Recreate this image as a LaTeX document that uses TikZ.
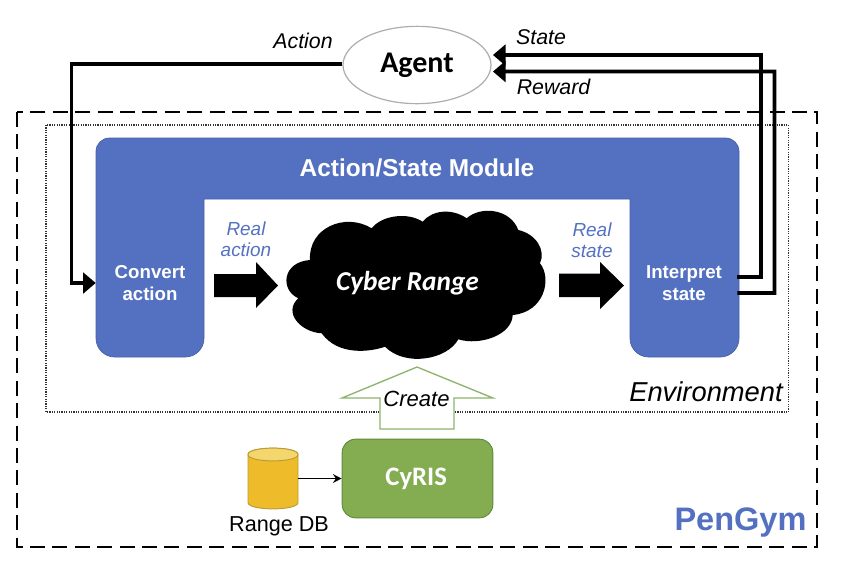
\documentclass[tikz,border=0pt]{standalone}
\usepackage{fontspec}
\setmainfont{Liberation Sans}
\newfontfamily\carlito{Carlito}
\usetikzlibrary{arrows.meta,shapes.geometric}
\definecolor{modblue}{HTML}{5470C1}
\definecolor{cygreen}{HTML}{84AD52}
\definecolor{cyedge}{HTML}{5F8A3C}
\definecolor{arrowgreen}{HTML}{8DB46A}
\definecolor{dbfill}{HTML}{EEBC2A}
\definecolor{dbtop}{HTML}{F4D66E}
\definecolor{dbedge}{HTML}{BD9A35}
\newcommand{\pxs}[2]{\fontsize{#1}{#2}\selectfont}
\tikzset{
  lab/.style={inner sep=0pt,align=center},
  flow/.style={line width=2.9pt,line join=miter,-{Triangle[width=15.5pt,length=9.5pt]}},
  fatarrow/.style={fill=black,draw=none},
  modtext/.style={lab,text=white,font=\bfseries\pxs{14}{16.5}},
  reallab/.style={lab,text=modblue,font=\itshape\pxs{14.2}{15.8}},
  blacklab/.style={lab,font=\itshape\pxs{16}{18}},
}
\begin{document}
\begin{tikzpicture}[x=0.75pt,y=-0.75pt]
\useasboundingbox (0,0) rectangle (842,576);
% frames
\draw[line width=1.6pt,dash pattern=on 11.2pt off 5.6pt] (17,112) rectangle (817,547);
\draw[line width=0.8pt,dash pattern=on 0.9pt off 0.9pt,black!80] (46,125) rectangle (788.5,412);
% module
\fill[modblue,draw=modblue!85!black,line width=0.5pt]
  (96,250) [rounded corners=10pt] -- (96,138) -- (739,138) -- (739,250)
  [rounded corners=14pt] -- (739,357) -- (630,357) [sharp corners] -- (630,199) -- (204,199)
  [rounded corners=14pt] -- (204,357) -- (96,357) -- cycle;
\node[lab,text=white,font=\bfseries\pxs{18.3}{20}] (modtitle) at (417,168) {Action/State Module};
\node[modtext,minimum width=81pt] (convert) at (150,283) {Convert\\action};
\node[modtext,minimum width=81.75pt] (interp) at (684,283) {Interpret\\state};
% agent
\node[draw=black!32,line width=0.9pt,ellipse,minimum width=111pt,minimum height=58pt,inner sep=0pt,fill=white,
  font=\carlito\bfseries\pxs{22.5}{24}] (agent) at (417,65) {Agent};
% flows
\coordinate (actcorner) at (71.5,170);
\coordinate (statecorner) at (761,55);
\coordinate (rewardcorner) at (774.5,71.5);
\draw[flow] ([yshift=1pt]agent.west) -| (actcorner) |- (convert.west);
\draw[flow] ([yshift=4.5pt,xshift=-1pt]interp.east) -| (statecorner) -- ([yshift=7.5pt,xshift=1pt]agent.east);
\draw[flow] ([yshift=-7.5pt,xshift=-1pt]interp.east) -| (rewardcorner) -- ([yshift=-4.9pt,xshift=1pt]agent.east);
\node[blacklab] (actionlab) at (303,41) {Action};
\node[blacklab] (statelab) at (541,37) {State};
\node[blacklab] (rewardlab) at (553.5,87) {Reward};
% cloud
\fill[black] (310,260)
  .. controls (308,228) and (345,212) .. (371.7,228.3)
  .. controls (382,215) and (408,212) .. (422.7,221.7)
  .. controls (432,210) and (452,208) .. (466.7,218.3)
  .. controls (480,206) and (510,208) .. (518.3,230)
  .. controls (536,234) and (546,250) .. (540,263.3)
  .. controls (552,278) and (545,312) .. (512.7,315)
  .. controls (512,335) and (480,346) .. (458.3,339.3)
  .. controls (447,360) and (405,367) .. (385,346.7)
  .. controls (370,352) and (338,356) .. (321.7,333.3)
  .. controls (300,332) and (283,312) .. (298.3,298.3)
  .. controls (280,290) and (282,262) .. (310,260) -- cycle;
\node[lab,text=white,font=\carlito\bfseries\itshape\pxs{20.5}{24}] (cyber) at (407.5,283) {Cyber Range};
% fat arrows
\fill[fatarrow] (214,274) -- (256,274) -- (256,262) -- (278,285.5) -- (256,308) -- (256,297) -- (214,297) -- cycle;
\fill[fatarrow] (559,273.5) -- (600,273.5) -- (600,262) -- (624,285.5) -- (600,309) -- (600,297) -- (559,297) -- cycle;
\node[reallab] (realaction) at (246,239.5) {Real\\action};
\node[reallab] (realstate) at (592,240) {Real\\state};
\node[lab,font=\itshape\pxs{20.5}{24}] (envlab) at (706,392) {Environment};
% create arrow
\draw[arrowgreen,fill=white,line width=1pt] (417,367) -- (493,398) -- (454,398) -- (454,429) -- (380,429) -- (380,398) -- (342,398) -- cycle;
\node[lab,font=\itshape\pxs{16.5}{20}] (create) at (416.5,399) {Create};
% cyris
\node[draw=cyedge,fill=cygreen,line width=0.7pt,rounded corners=10pt,minimum width=113pt,minimum height=59pt,inner sep=0pt,
  text=white,font=\carlito\bfseries\pxs{20}{24}] (cyris) at (417.5,478.5) {\hspace*{-2pt}CyRIS};
% database
\node[minimum width=37.5pt,minimum height=45.75pt,inner sep=0pt] (db) at (273,478.5) {};
\filldraw[draw=dbedge,fill=dbfill,line width=0.7pt]
  (248,454.5) -- (248,502.5) .. controls (248,511) and (298,511) .. (298,502.5) -- (298,454.5)
  .. controls (298,446) and (248,446) .. (248,454.5) -- cycle;
\filldraw[draw=dbedge,fill=dbtop,line width=0.7pt]
  (248,454.5) .. controls (248,446) and (298,446) .. (298,454.5)
  .. controls (298,463) and (248,463) .. (248,454.5) -- cycle;
\draw[line width=1.4pt,-{Stealth[length=6.5pt,width=6.5pt]}] (db.east) -- (cyris.west);
\node[lab,font=\pxs{16.2}{20}] (dblab) at (279,526) {Range DB};
\node[lab,text=modblue,font=\bfseries\pxs{24.4}{28}] (pengym) at (740.5,523) {PenGym};
\end{tikzpicture}
\end{document}
